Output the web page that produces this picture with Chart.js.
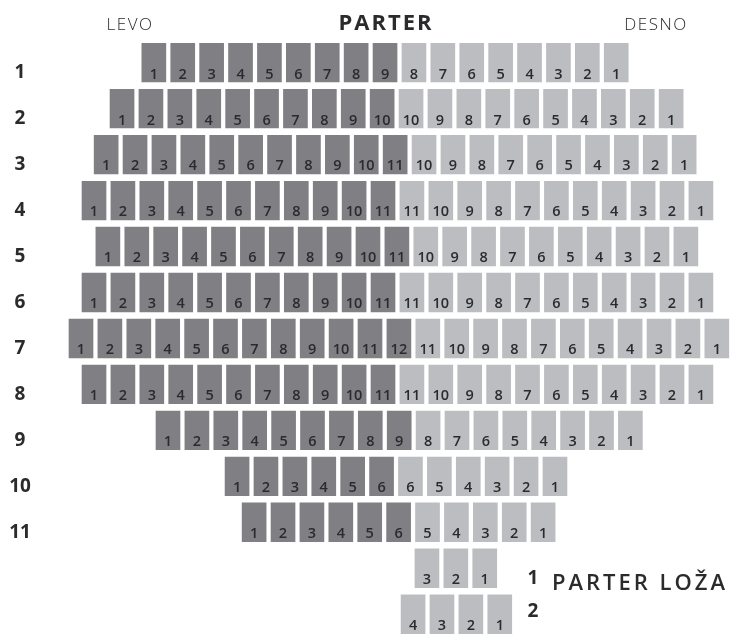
<!DOCTYPE html>
<html>
<head>
<meta charset="utf-8">
<title>Parter</title>
<script src="https://cdn.jsdelivr.net/npm/chart.js@4/dist/chart.umd.min.js"></script>
<style>
  html, body { margin: 0; padding: 0; background: #fff; }
  #seatWrap { width: 741px; height: 635px; position: relative; }
</style>
</head>
<body>
<div id="seatWrap"><canvas id="seatChart"></canvas></div>
<script>
// rows of the parter, left block (dark) and right block (light)
const rows = ["1", "2", "3", "4", "5", "6", "7", "8", "9", "10", "11"];
const leftSeats = [9, 10, 11, 11, 11, 11, 12, 11, 9, 6, 6];
const rightSeats = [8, 10, 10, 11, 10, 11, 11, 11, 8, 6, 5];
// where the first seat of a row sits, in seat widths (row 7 = 0)
const rowShift = [2.52, 1.42, 0.87, 0.45, 0.93, 0.45, 0, 0.45, 3.01, 5.40, 5.99];

// parter loža
const lozaRows = ["1", "2"];
const lozaSeats = [3, 4];
const lozaShift = [11.97, 11.49];

const darkColor = "#7f7f84";
const lightColor = "#bcbdc1";
const textColor = "#2b2b2d";
const half = 0.421;

const darkData = [];
const lightData = [];
rows.forEach((row, r) => {
  const y = r + 1;
  for (let i = 0; i < leftSeats[r]; i++) {
    darkData.push({ x: rowShift[r] + i + 0.5, y: [y - half, y + half], n: i + 1 });
  }
  for (let i = 0; i < rightSeats[r]; i++) {
    lightData.push({
      x: rowShift[r] + leftSeats[r] + i + 0.5,
      y: [y - half, y + half],
      n: rightSeats[r] - i,
    });
  }
});
lozaRows.forEach((row, r) => {
  const y = rows.length + r + 1;
  for (let i = 0; i < lozaSeats[r]; i++) {
    lightData.push({ x: lozaShift[r] + i + 0.5, y: [y - half, y + half], n: lozaSeats[r] - i });
  }
});

// numbers on the seats, row numbers and the headings
const seatText = {
  id: "seatText",
  afterDatasetsDraw(chart) {
    const ctx = chart.ctx;
    const yScale = chart.scales.y;
    ctx.save();
    ctx.fillStyle = textColor;
    ctx.textAlign = "center";
    ctx.textBaseline = "alphabetic";

    ctx.font = "600 14.5px 'Open Sans'";
    chart.data.datasets.forEach((ds, d) => {
      chart.getDatasetMeta(d).data.forEach((bar, i) => {
        const bottom = Math.max(bar.y, bar.base);
        ctx.fillText(String(ds.data[i].n), bar.x, bottom - 3.5);
      });
    });

    ctx.font = "700 19px 'Open Sans'";
    rows.forEach((row, r) => {
      ctx.fillText(row, 20, yScale.getPixelForValue(r + 1) + 15.4);
    });
    const lozaDrop = [15.4, 2.8];
    lozaRows.forEach((row, r) => {
      ctx.fillText(row, 533, yScale.getPixelForValue(rows.length + r + 1) + lozaDrop[r]);
    });

    ctx.letterSpacing = "2px";
    ctx.font = "700 22px 'Open Sans'";
    ctx.fillText("PARTER", 386, 29.5);

    ctx.letterSpacing = "1.5px";
    ctx.font = "300 17px 'Open Sans'";
    ctx.fillText("LEVO", 130, 29.5);
    ctx.fillText("DESNO", 656, 29.5);

    ctx.letterSpacing = "3px";
    ctx.textAlign = "left";
    ctx.font = "600 22px 'Open Sans'";
    ctx.fillText("PARTER LOŽA", 552, 590);
    ctx.restore();
  },
};

const ctx = document.getElementById("seatChart").getContext("2d");
const seatChart = new Chart(ctx, {
  type: "bar",
  data: {
    datasets: [
      { label: "levo", data: darkData, backgroundColor: darkColor },
      { label: "desno", data: lightData, backgroundColor: lightColor },
    ],
  },
  options: {
    responsive: true,
    maintainAspectRatio: false,
    animation: false,
    layout: { padding: 0 },
    datasets: {
      bar: { barThickness: 24, grouped: false, borderWidth: 0 },
    },
    scales: {
      x: { type: "linear", display: false, offset: false, min: -2.303, max: 23.337 },
      y: { type: "linear", display: false, reverse: true, min: -0.364, max: 13.452 },
    },
    plugins: {
      legend: { display: false },
      tooltip: { enabled: false },
    },
  },
  plugins: [seatText],
});
</script>
</body>
</html>
